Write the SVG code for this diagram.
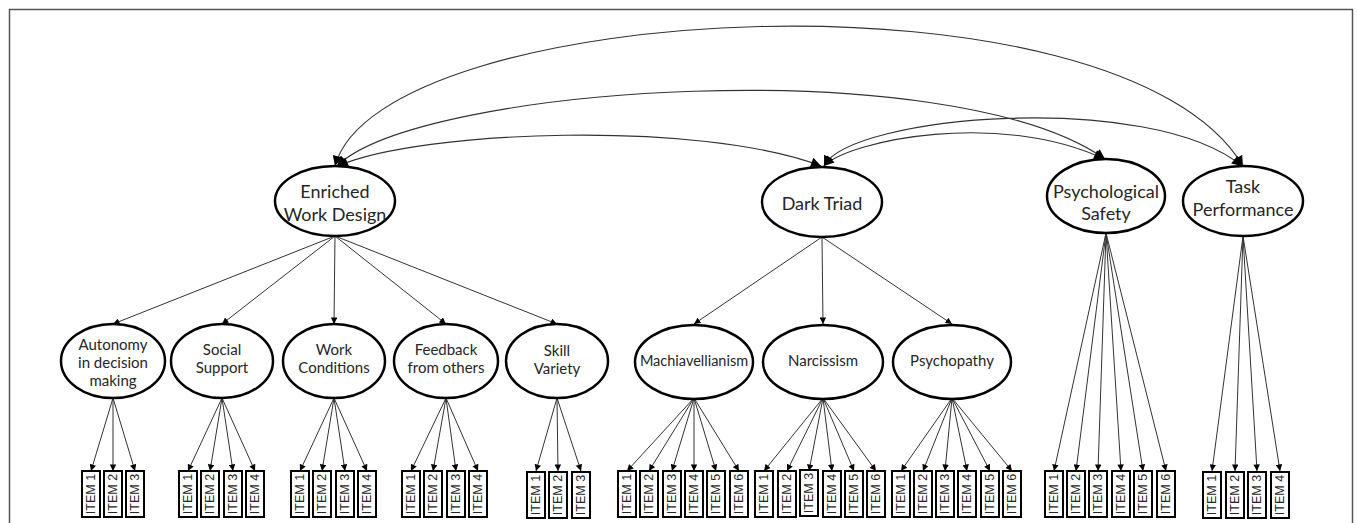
<svg xmlns="http://www.w3.org/2000/svg" width="1357" height="523" viewBox="0 0 1357 523">
<style>
.frame{fill:none;stroke:#555;stroke-width:1.5}
.lat{fill:#fff;stroke:#000;stroke-width:2.5}
.box{fill:#fff;stroke:#000;stroke-width:2}
.lbl{font-family:Lato,"Liberation Sans",sans-serif;fill:#262626;text-anchor:middle}
.big{font-size:18px}
.mid{font-size:15px}
.itm{font-family:"Liberation Sans",Arial,sans-serif;font-size:12.5px;fill:#262626;text-anchor:middle;dominant-baseline:central}
.ar{stroke:#333;stroke-width:1;fill:none;marker-end:url(#ah)}
.cv{stroke:#333;stroke-width:1.1;fill:none;marker-start:url(#ahc);marker-end:url(#ahc)}
</style>
<defs>
<marker id="ah" viewBox="0 0 10 10" refX="10" refY="5" markerWidth="7" markerHeight="6.5" orient="auto" markerUnits="userSpaceOnUse"><path d="M0,0 L10,5 L0,10 z" fill="#000"/></marker>
<marker id="ahc" viewBox="0 0 10 10" refX="10" refY="5" markerWidth="11" markerHeight="10" orient="auto-start-reverse" markerUnits="userSpaceOnUse"><path d="M0,0 L10,5 L0,10 z" fill="#000"/></marker>
</defs>
<rect class="frame" x="9.5" y="9.5" width="1343" height="530"/>
<g id="connectors">
<path class="cv" d="M335,166 C380,0 1120,-40 1243,166"/>
<path class="cv" d="M337,166 C420,85 950,50 1105,159"/>
<path class="cv" d="M338,166 C420,130 700,120 821,166"/>
<path class="cv" d="M824,166 C850,140 1000,110 1104,159"/>
<path class="cv" d="M824,166 C850,115 1150,90 1242,166"/>
<line class="ar" x1="335" y1="236" x2="113" y2="324"/>
<line class="ar" x1="335" y1="236" x2="222" y2="324"/>
<line class="ar" x1="335" y1="236" x2="334" y2="324"/>
<line class="ar" x1="335" y1="236" x2="446" y2="324"/>
<line class="ar" x1="335" y1="236" x2="557" y2="324"/>
<line class="ar" x1="822" y1="237" x2="694" y2="324"/>
<line class="ar" x1="822" y1="237" x2="823" y2="324"/>
<line class="ar" x1="822" y1="237" x2="952" y2="324"/>
<line class="ar" x1="113" y1="398" x2="91" y2="471"/>
<line class="ar" x1="113" y1="398" x2="113" y2="471"/>
<line class="ar" x1="113" y1="398" x2="135" y2="471"/>
<line class="ar" x1="222" y1="398" x2="188" y2="471"/>
<line class="ar" x1="222" y1="398" x2="210" y2="471"/>
<line class="ar" x1="222" y1="398" x2="233" y2="471"/>
<line class="ar" x1="222" y1="398" x2="255" y2="471"/>
<line class="ar" x1="334" y1="398" x2="300" y2="471"/>
<line class="ar" x1="334" y1="398" x2="322" y2="471"/>
<line class="ar" x1="334" y1="398" x2="345" y2="471"/>
<line class="ar" x1="334" y1="398" x2="367" y2="471"/>
<line class="ar" x1="446" y1="398" x2="411" y2="471"/>
<line class="ar" x1="446" y1="398" x2="433" y2="471"/>
<line class="ar" x1="446" y1="398" x2="456" y2="471"/>
<line class="ar" x1="446" y1="398" x2="478" y2="471"/>
<line class="ar" x1="557" y1="398" x2="536" y2="471"/>
<line class="ar" x1="557" y1="398" x2="558" y2="471"/>
<line class="ar" x1="557" y1="398" x2="581" y2="471"/>
<line class="ar" x1="694" y1="398" x2="627" y2="471"/>
<line class="ar" x1="694" y1="398" x2="649" y2="471"/>
<line class="ar" x1="694" y1="398" x2="672" y2="471"/>
<line class="ar" x1="694" y1="398" x2="694" y2="471"/>
<line class="ar" x1="694" y1="398" x2="716" y2="471"/>
<line class="ar" x1="694" y1="398" x2="739" y2="471"/>
<line class="ar" x1="823" y1="398" x2="764" y2="471"/>
<line class="ar" x1="823" y1="398" x2="787" y2="471"/>
<line class="ar" x1="823" y1="398" x2="809" y2="471"/>
<line class="ar" x1="823" y1="398" x2="832" y2="471"/>
<line class="ar" x1="823" y1="398" x2="854" y2="471"/>
<line class="ar" x1="823" y1="398" x2="876" y2="471"/>
<line class="ar" x1="952" y1="398" x2="901" y2="471"/>
<line class="ar" x1="952" y1="398" x2="923" y2="471"/>
<line class="ar" x1="952" y1="398" x2="945" y2="471"/>
<line class="ar" x1="952" y1="398" x2="967" y2="471"/>
<line class="ar" x1="952" y1="398" x2="990" y2="471"/>
<line class="ar" x1="952" y1="398" x2="1012" y2="471"/>
<line class="ar" x1="1106" y1="233" x2="1054" y2="471"/>
<line class="ar" x1="1106" y1="233" x2="1076" y2="471"/>
<line class="ar" x1="1106" y1="233" x2="1098" y2="471"/>
<line class="ar" x1="1106" y1="233" x2="1121" y2="471"/>
<line class="ar" x1="1106" y1="233" x2="1143" y2="471"/>
<line class="ar" x1="1106" y1="233" x2="1166" y2="471"/>
<line class="ar" x1="1243" y1="236" x2="1212" y2="471"/>
<line class="ar" x1="1243" y1="236" x2="1235" y2="471"/>
<line class="ar" x1="1243" y1="236" x2="1257" y2="471"/>
<line class="ar" x1="1243" y1="236" x2="1280" y2="471"/>
</g>
<g id="node-ewd"><ellipse class="lat" cx="335" cy="201" rx="60" ry="35"/><text class="lbl big" x="335" y="198">Enriched</text><text class="lbl big" x="335" y="221">Work Design</text></g>
<g id="node-dt"><ellipse class="lat" cx="822" cy="202" rx="60" ry="35"/><text class="lbl big" x="822" y="210">Dark Triad</text></g>
<g id="node-ps"><ellipse class="lat" cx="1106" cy="196" rx="59" ry="37"/><text class="lbl big" x="1106" y="198">Psychological</text><text class="lbl big" x="1106" y="220">Safety</text></g>
<g id="node-tp"><ellipse class="lat" cx="1243" cy="201" rx="60" ry="35"/><text class="lbl big" x="1243" y="193">Task</text><text class="lbl big" x="1243" y="216">Performance</text></g>
<g id="node-aut"><ellipse class="lat" cx="113" cy="361" rx="52" ry="37"/><text class="lbl mid" x="113" y="350">Autonomy</text><text class="lbl mid" x="113" y="368">in decision</text><text class="lbl mid" x="113" y="386">making</text></g>
<g id="node-ss"><ellipse class="lat" cx="222" cy="361" rx="51" ry="37"/><text class="lbl mid" x="222" y="355">Social</text><text class="lbl mid" x="222" y="373">Support</text></g>
<g id="node-wc"><ellipse class="lat" cx="334" cy="361" rx="51" ry="37"/><text class="lbl mid" x="334" y="355">Work</text><text class="lbl mid" x="334" y="373">Conditions</text></g>
<g id="node-fb"><ellipse class="lat" cx="446" cy="361" rx="52" ry="37"/><text class="lbl mid" x="446" y="355">Feedback</text><text class="lbl mid" x="446" y="373">from others</text></g>
<g id="node-sv"><ellipse class="lat" cx="557" cy="361" rx="51" ry="37"/><text class="lbl mid" x="557" y="356">Skill</text><text class="lbl mid" x="557" y="374">Variety</text></g>
<g id="node-mach"><ellipse class="lat" cx="694" cy="362" rx="59" ry="37"/><text class="lbl" style="font-size:14.5px" x="694" y="366">Machiavellianism</text></g>
<g id="node-narc"><ellipse class="lat" cx="823" cy="362" rx="60" ry="37"/><text class="lbl mid" x="823" y="366">Narcissism</text></g>
<g id="node-psy"><ellipse class="lat" cx="952" cy="362" rx="59" ry="37"/><text class="lbl mid" x="952" y="366">Psychopathy</text></g>
<g id="items">
<g id="aut-items">
<rect class="box" x="82" y="471" width="18" height="46"/><text class="itm" transform="translate(91,494) rotate(-90)">ITEM 1</text>
<rect class="box" x="104" y="471" width="18" height="46"/><text class="itm" transform="translate(113,494) rotate(-90)">ITEM 2</text>
<rect class="box" x="126" y="471" width="18" height="46"/><text class="itm" transform="translate(135,494) rotate(-90)">ITEM 3</text>
</g>
<g id="ss-items">
<rect class="box" x="179" y="471" width="18" height="46"/><text class="itm" transform="translate(188,494) rotate(-90)">ITEM 1</text>
<rect class="box" x="201" y="471" width="18" height="46"/><text class="itm" transform="translate(210,494) rotate(-90)">ITEM 2</text>
<rect class="box" x="224" y="471" width="18" height="46"/><text class="itm" transform="translate(233,494) rotate(-90)">ITEM 3</text>
<rect class="box" x="246" y="471" width="18" height="46"/><text class="itm" transform="translate(255,494) rotate(-90)">ITEM 4</text>
</g>
<g id="wc-items">
<rect class="box" x="291" y="471" width="18" height="46"/><text class="itm" transform="translate(300,494) rotate(-90)">ITEM 1</text>
<rect class="box" x="313" y="471" width="18" height="46"/><text class="itm" transform="translate(322,494) rotate(-90)">ITEM 2</text>
<rect class="box" x="336" y="471" width="18" height="46"/><text class="itm" transform="translate(345,494) rotate(-90)">ITEM 3</text>
<rect class="box" x="358" y="471" width="18" height="46"/><text class="itm" transform="translate(367,494) rotate(-90)">ITEM 4</text>
</g>
<g id="fb-items">
<rect class="box" x="402" y="471" width="18" height="46"/><text class="itm" transform="translate(411,494) rotate(-90)">ITEM 1</text>
<rect class="box" x="424" y="471" width="18" height="46"/><text class="itm" transform="translate(433,494) rotate(-90)">ITEM 2</text>
<rect class="box" x="447" y="471" width="18" height="46"/><text class="itm" transform="translate(456,494) rotate(-90)">ITEM 3</text>
<rect class="box" x="469" y="471" width="18" height="46"/><text class="itm" transform="translate(478,494) rotate(-90)">ITEM 4</text>
</g>
<g id="sv-items">
<rect class="box" x="527" y="472" width="18" height="46"/><text class="itm" transform="translate(536,495) rotate(-90)">ITEM 1</text>
<rect class="box" x="549" y="472" width="18" height="46"/><text class="itm" transform="translate(558,495) rotate(-90)">ITEM 2</text>
<rect class="box" x="572" y="472" width="18" height="46"/><text class="itm" transform="translate(581,495) rotate(-90)">ITEM 3</text>
</g>
<g id="mach-items">
<rect class="box" x="618" y="471" width="18" height="46"/><text class="itm" transform="translate(627,494) rotate(-90)">ITEM 1</text>
<rect class="box" x="640" y="471" width="18" height="46"/><text class="itm" transform="translate(649,494) rotate(-90)">ITEM 2</text>
<rect class="box" x="663" y="471" width="18" height="46"/><text class="itm" transform="translate(672,494) rotate(-90)">ITEM 3</text>
<rect class="box" x="685" y="471" width="18" height="46"/><text class="itm" transform="translate(694,494) rotate(-90)">ITEM 4</text>
<rect class="box" x="707" y="471" width="18" height="46"/><text class="itm" transform="translate(716,494) rotate(-90)">ITEM 5</text>
<rect class="box" x="730" y="471" width="18" height="46"/><text class="itm" transform="translate(739,494) rotate(-90)">ITEM 6</text>
</g>
<g id="narc-items">
<rect class="box" x="755" y="471" width="18" height="46"/><text class="itm" transform="translate(764,494) rotate(-90)">ITEM 1</text>
<rect class="box" x="778" y="471" width="18" height="46"/><text class="itm" transform="translate(787,494) rotate(-90)">ITEM 2</text>
<rect class="box" x="800" y="470" width="18" height="46"/><text class="itm" transform="translate(809,493) rotate(-90)">ITEM 3</text>
<rect class="box" x="823" y="471" width="18" height="46"/><text class="itm" transform="translate(832,494) rotate(-90)">ITEM 4</text>
<rect class="box" x="845" y="471" width="18" height="46"/><text class="itm" transform="translate(854,494) rotate(-90)">ITEM 5</text>
<rect class="box" x="867" y="471" width="18" height="46"/><text class="itm" transform="translate(876,494) rotate(-90)">ITEM 6</text>
</g>
<g id="psy-items">
<rect class="box" x="892" y="471" width="18" height="46"/><text class="itm" transform="translate(901,494) rotate(-90)">ITEM 1</text>
<rect class="box" x="914" y="471" width="18" height="46"/><text class="itm" transform="translate(923,494) rotate(-90)">ITEM 2</text>
<rect class="box" x="936" y="471" width="18" height="46"/><text class="itm" transform="translate(945,494) rotate(-90)">ITEM 3</text>
<rect class="box" x="958" y="471" width="18" height="46"/><text class="itm" transform="translate(967,494) rotate(-90)">ITEM 4</text>
<rect class="box" x="981" y="471" width="18" height="46"/><text class="itm" transform="translate(990,494) rotate(-90)">ITEM 5</text>
<rect class="box" x="1003" y="471" width="18" height="46"/><text class="itm" transform="translate(1012,494) rotate(-90)">ITEM 6</text>
</g>
<g id="ps-items">
<rect class="box" x="1045" y="471" width="18" height="46"/><text class="itm" transform="translate(1054,494) rotate(-90)">ITEM 1</text>
<rect class="box" x="1067" y="471" width="18" height="46"/><text class="itm" transform="translate(1076,494) rotate(-90)">ITEM 2</text>
<rect class="box" x="1089" y="471" width="18" height="46"/><text class="itm" transform="translate(1098,494) rotate(-90)">ITEM 3</text>
<rect class="box" x="1112" y="471" width="18" height="46"/><text class="itm" transform="translate(1121,494) rotate(-90)">ITEM 4</text>
<rect class="box" x="1134" y="471" width="18" height="46"/><text class="itm" transform="translate(1143,494) rotate(-90)">ITEM 5</text>
<rect class="box" x="1157" y="471" width="18" height="46"/><text class="itm" transform="translate(1166,494) rotate(-90)">ITEM 6</text>
</g>
<g id="tp-items">
<rect class="box" x="1203" y="472" width="18" height="46"/><text class="itm" transform="translate(1212,495) rotate(-90)">ITEM 1</text>
<rect class="box" x="1226" y="472" width="18" height="46"/><text class="itm" transform="translate(1235,495) rotate(-90)">ITEM 2</text>
<rect class="box" x="1248" y="472" width="18" height="46"/><text class="itm" transform="translate(1257,495) rotate(-90)">ITEM 3</text>
<rect class="box" x="1271" y="472" width="18" height="46"/><text class="itm" transform="translate(1280,495) rotate(-90)">ITEM 4</text>
</g>
</g>
</svg>
